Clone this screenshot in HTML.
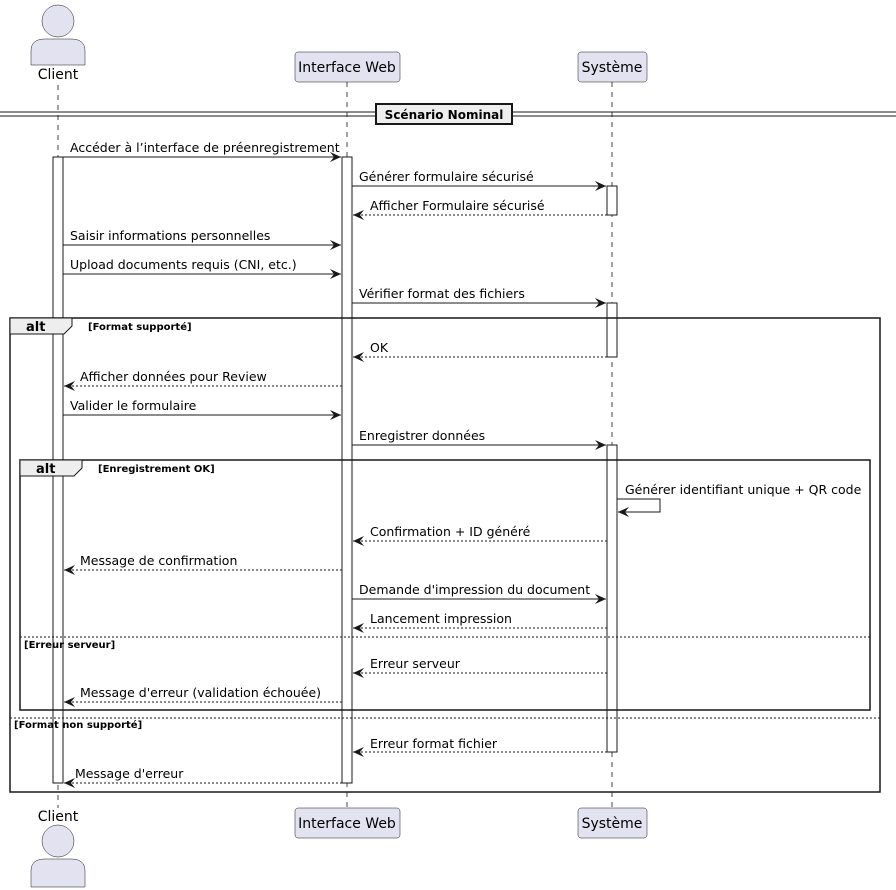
<!DOCTYPE html>
<html><head><meta charset="utf-8"><style>body{margin:0;background:#fff}svg{display:block}</style></head><body>
<svg width="896" height="890" viewBox="0 0 896 890" xmlns="http://www.w3.org/2000/svg" font-family="DejaVu Sans, Liberation Sans, sans-serif" font-size="12.5">
<defs>
<marker id="a" markerWidth="12" markerHeight="10" refX="11" refY="5" orient="auto" markerUnits="userSpaceOnUse"><path d="M0,0 L11,5 L0,10 L4,5 Z" fill="#181818"/></marker>
</defs>
<g stroke="#181818" stroke-width="0.8" stroke-dasharray="5,5">
<line x1="58" y1="85" x2="58" y2="808"/><line x1="347" y1="82" x2="347" y2="808"/><line x1="612" y1="82" x2="612" y2="808"/>
</g>
<g fill="#E2E2F0" stroke="#181818" stroke-width="0.5">
<circle cx="58" cy="21" r="16"/><path d="M31,65 L31,51 Q31,39 45,39 L71,39 Q85,39 85,51 L85,65 Z"/>
<circle cx="58" cy="841" r="16"/><path d="M31,887 L31,871 Q31,859 45,859 L71,859 Q85,859 85,871 L85,887 Z"/>
<rect x="295" y="52" width="105" height="30" rx="3"/><rect x="578" y="52" width="69" height="30" rx="3"/>
<rect x="295" y="808" width="105" height="30" rx="3"/><rect x="578" y="808" width="69" height="30" rx="3"/>
</g>
<g font-size="14" fill="#000" font-family="DejaVu Sans, sans-serif">
<text x="58" y="79" text-anchor="middle">Client</text><text x="347" y="72" text-anchor="middle">Interface Web</text><text x="612" y="72" text-anchor="middle">Système</text>
<text x="58" y="821" text-anchor="middle">Client</text><text x="347" y="828" text-anchor="middle">Interface Web</text><text x="612" y="828" text-anchor="middle">Système</text>
</g>
<line x1="0" y1="112" x2="896" y2="112" stroke="#181818"/><line x1="0" y1="116" x2="896" y2="116" stroke="#181818"/>
<rect x="376" y="104" width="136" height="20" fill="#EEEEEE" stroke="#181818" stroke-width="2"/>
<text x="444" y="119" text-anchor="middle" font-weight="bold" font-size="12">Scénario Nominal</text>
<g fill="#fff" stroke="#181818">
<rect x="53" y="157" width="10" height="626"/><rect x="342" y="157" width="10" height="626"/>
<rect x="607" y="186" width="10" height="29"/><rect x="607" y="303" width="10" height="54"/><rect x="607" y="445" width="10" height="307"/>
</g>
<g fill="none" stroke="#181818" stroke-width="1.5">
<rect x="10" y="318" width="870" height="474"/><rect x="20" y="460" width="850" height="250"/>
</g>
<path d="M10,318 L72,318 L72,326 L64,334 L10,334 Z" fill="#EEEEEE" stroke="#181818"/>
<path d="M20,460 L82,460 L82,468 L74,476 L20,476 Z" fill="#EEEEEE" stroke="#181818"/>
<g stroke="#181818" stroke-dasharray="2,2"><line x1="20" y1="637" x2="870" y2="637"/><line x1="10" y1="718" x2="880" y2="718"/></g>
<g font-weight="bold" font-size="13"><text x="26" y="331">alt</text><text x="36" y="473">alt</text></g>
<g font-weight="bold" font-size="10"><text x="88" y="330">[Format supporté]</text><text x="98" y="472">[Enregistrement OK]</text><text x="24" y="648">[Erreur serveur]</text><text x="14" y="728">[Format non supporté]</text></g>
<g stroke="#181818" fill="none" marker-end="url(#a)">
<line x1="63" y1="157" x2="341" y2="157"/>
<line x1="352" y1="186" x2="606" y2="186"/>
<line x1="607" y1="215" x2="353" y2="215" stroke-dasharray="2,2"/>
<line x1="63" y1="245" x2="341" y2="245"/>
<line x1="63" y1="274" x2="341" y2="274"/>
<line x1="352" y1="303" x2="606" y2="303"/>
<line x1="607" y1="357" x2="353" y2="357" stroke-dasharray="2,2"/>
<line x1="342" y1="386" x2="64" y2="386" stroke-dasharray="2,2"/>
<line x1="63" y1="415" x2="341" y2="415"/>
<line x1="352" y1="445" x2="606" y2="445"/>
<path d="M617,499 L660,499 L660,512 L618,512"/>
<line x1="607" y1="541" x2="353" y2="541" stroke-dasharray="2,2"/>
<line x1="342" y1="570" x2="64" y2="570" stroke-dasharray="2,2"/>
<line x1="352" y1="599" x2="606" y2="599"/>
<line x1="607" y1="628" x2="353" y2="628" stroke-dasharray="2,2"/>
<line x1="607" y1="673" x2="353" y2="673" stroke-dasharray="2,2"/>
<line x1="342" y1="702" x2="64" y2="702" stroke-dasharray="2,2"/>
<line x1="607" y1="752" x2="353" y2="752" stroke-dasharray="2,2"/>
<line x1="342" y1="783" x2="64" y2="783" stroke-dasharray="2,2"/>
</g>
<g fill="#000">
<text x="70" y="152">Accéder à l’interface de préenregistrement</text>
<text x="359" y="181">Générer formulaire sécurisé</text>
<text x="370" y="210">Afficher Formulaire sécurisé</text>
<text x="70" y="240">Saisir informations personnelles</text>
<text x="70" y="269">Upload documents requis (CNI, etc.)</text>
<text x="359" y="298">Vérifier format des fichiers</text>
<text x="370" y="352">OK</text>
<text x="80" y="381">Afficher données pour Review</text>
<text x="70" y="410">Valider le formulaire</text>
<text x="359" y="440">Enregistrer données</text>
<text x="625" y="494">Générer identifiant unique + QR code</text>
<text x="370" y="536">Confirmation + ID généré</text>
<text x="80" y="565">Message de confirmation</text>
<text x="359" y="594">Demande d'impression du document</text>
<text x="370" y="623">Lancement impression</text>
<text x="370" y="668">Erreur serveur</text>
<text x="80" y="697">Message d'erreur (validation échouée)</text>
<text x="370" y="748">Erreur format fichier</text>
<text x="75" y="778">Message d'erreur</text>
</g>
</svg>
</body></html>
